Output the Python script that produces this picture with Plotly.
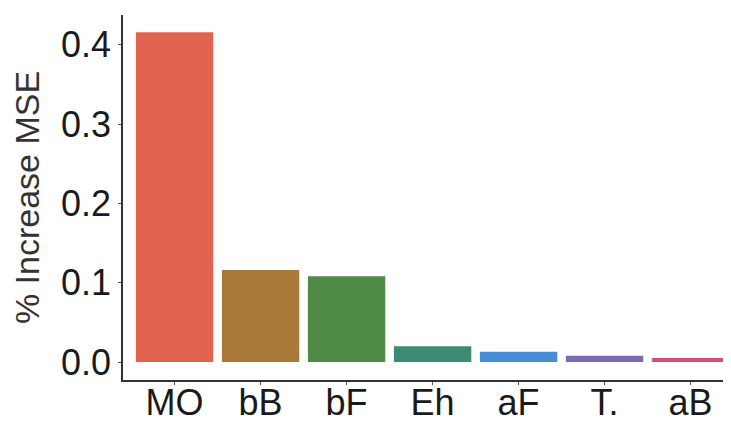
import plotly.graph_objects as go

categories = ["MO", "bB", "bF", "Eh", "aF", "T.", "aB"]
values = [0.416, 0.116, 0.108, 0.020, 0.013, 0.008, 0.005]
colors = ["#E0634F", "#A9793A", "#4F8A47", "#3F8A72", "#4A8DD6", "#7D6AAF", "#D45073"]
yticks = [0.0, 0.1, 0.2, 0.3, 0.4]
yticklabels = ["0.0", "0.1", "0.2", "0.3", "0.4"]

fig = go.Figure(go.Bar(
    x=list(range(len(categories))), y=values,
    marker=dict(color=colors, line=dict(width=0)),
    width=0.9,
))

# page has an 8px body margin, so figure is sized/offset to compensate
fig.update_layout(
    width=723, height=415,
    margin=dict(l=115, r=0, t=7, b=43),
    plot_bgcolor="white", paper_bgcolor="white",
    font=dict(family="Liberation Sans, Arial, sans-serif", color="#1a1a1a"),
    showlegend=False,
    bargap=0.1,
)
fig.update_xaxes(
    range=[-0.6, 6.47],
    tickvals=list(range(len(categories))), ticktext=categories,
    tickfont=dict(size=36, color="#1a1a1a"),
    showline=True, linecolor="#333333", linewidth=1.5,
    ticks="outside", ticklen=3, tickcolor="#555555",
    ticklabelstandoff=-13,
    showgrid=False, zeroline=False, automargin=False,
)
fig.update_yaxes(
    range=[-0.0227, 0.4376],
    tickvals=yticks, ticktext=yticklabels,
    tickfont=dict(size=36, color="#1a1a1a"),
    showline=True, linecolor="#333333", linewidth=1.5,
    ticks="outside", ticklen=3, tickcolor="#555555",
    showgrid=False, zeroline=False, automargin=False,
    title=dict(text="% Increase MSE", font=dict(size=34, color="#333333"), standoff=12),
)

fig.write_html("out.html")
